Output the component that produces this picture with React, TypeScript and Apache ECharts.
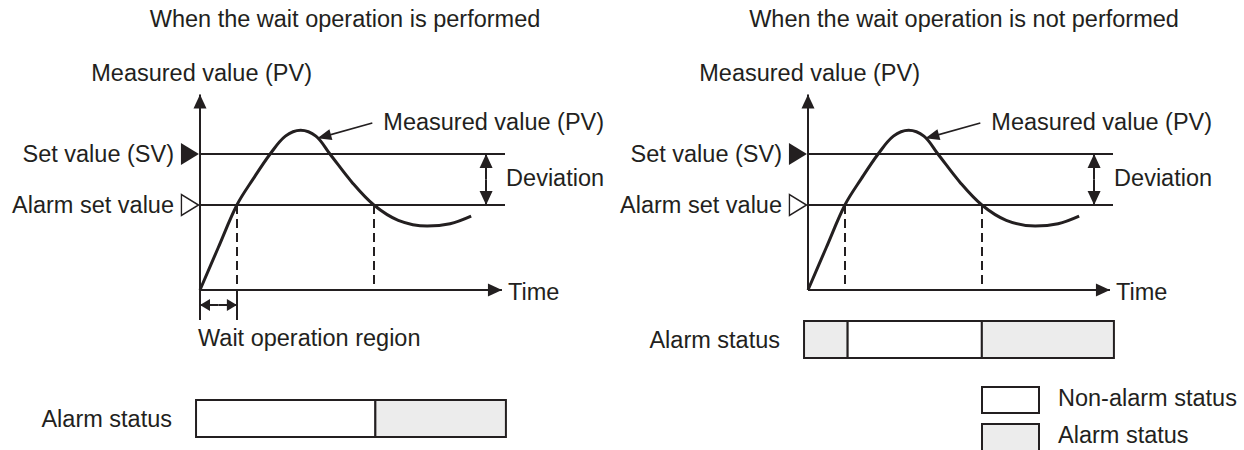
import React, { useEffect, useRef } from "react";
import * as echarts from "echarts";

// ---------- data ----------
const titles = ["When the wait operation is performed", "When the wait operation is not performed"];

// time axis units (0 = origin, axis ends at TIME_AXIS_END), PV units (0 = time axis)
const SET_VALUE = 80;
const ALARM_SET_VALUE = 50;
const PV_AXIS_TOP = 115;
const TIME_AXIS_END = 99;
const REF_LINE_END = 100;

const pvTime = [0, 6, 12.1, 17.5, 23, 28, 33, 38, 42.6, 50, 57, 65, 74.5, 82, 88.9];
const pvValue = [0, 25, 50, 65.5, 80, 90.5, 94, 90.5, 80, 63, 50, 41, 37.6, 39, 43.5];

const alarmRiseTime = 12.1;
const alarmFallTime = 57;
const deviationTime = 93.8;
const pointerFrom = [56.5, 98.2];
const pointerTo = [38.5, 89.2];
const waitArrowPV = -8.8;
const waitTickBottom = -17.6;

const leftStatusEdges = [-1.3, 57.5, 100.3];
const leftStatusAlarm = [0, 1];
const rightStatusEdges = [-1.3, 13, 57, 100.3];
const rightStatusAlarm = [1, 0, 1];

const legendLabels = ["Non-alarm status", "Alarm status"];

// ---------- style / layout ----------
const INK = "#231f20";
const GREY = "#ececec";
const FONT = "'Liberation Sans', Arial, Helvetica, sans-serif";
const FS = 23.5;
const T_PX = 3.05;
const V_PX = 1.7;
const AXIS_Y = 290;
const AXIS_XS = [200, 808];
const TITLE_XS = [345, 964];
const STATUS_TOPS = [400, 321];
const STATUS_H = 37;

function arrowEnd(coord: number[], size: number[]) {
  return { coord, symbol: "triangle", symbolSize: size, symbolOffset: [0, size[1] / 2] };
}
function plainEnd(coord: number[]) {
  return { coord, symbol: "none" };
}

export default function App() {
  const ref = useRef<HTMLDivElement>(null);
  useEffect(() => {
    document.body.style.margin = "0";
    const chart = echarts.init(ref.current!, null, { renderer: "svg" });

    const grids: any[] = [];
    const xAxes: any[] = [];
    const yAxes: any[] = [];
    const series: any[] = [];

    AXIS_XS.forEach((ax, p) => {
      grids.push({ left: ax - 10 * T_PX, top: AXIS_Y - 120 * V_PX, width: 120 * T_PX, height: 140 * V_PX });
      xAxes.push({ type: "value", min: -10, max: 110, show: false, gridIndex: p });
      yAxes.push({ type: "value", min: -20, max: 120, show: false, gridIndex: p });
    });
    AXIS_XS.forEach((ax, p) => {
      grids.push({ left: ax - 10 * T_PX, top: STATUS_TOPS[p], width: 120 * T_PX, height: STATUS_H });
      xAxes.push({ type: "value", min: -10, max: 110, show: false, gridIndex: 2 + p });
      yAxes.push({ type: "value", min: 0, max: 1, show: false, gridIndex: 2 + p });
    });

    const axisStyle = { color: INK, width: 2, type: "solid" };
    const dashStyle = { color: INK, width: 2, type: [9, 5] };
    const AH = [13, 14];
    const SMALL_AH = [12, 10];

    [0, 1].forEach((p) => {
      const wait = p === 0;
      const midDev = (SET_VALUE + ALARM_SET_VALUE) / 2;
      const lines: any[] = [
        // PV axis
        [plainEnd([0, wait ? waitTickBottom : 0]), { ...arrowEnd([0, PV_AXIS_TOP], AH), lineStyle: axisStyle }],
        // time axis
        [plainEnd([0, 0]), { ...arrowEnd([TIME_AXIS_END, 0], AH), lineStyle: axisStyle }],
        // set value / alarm set value lines
        [plainEnd([0, SET_VALUE]), { ...plainEnd([REF_LINE_END, SET_VALUE]), lineStyle: axisStyle }],
        [plainEnd([0, ALARM_SET_VALUE]), { ...plainEnd([REF_LINE_END, ALARM_SET_VALUE]), lineStyle: axisStyle }],
        // dashed drop lines
        [plainEnd([alarmRiseTime, ALARM_SET_VALUE]), { ...plainEnd([alarmRiseTime, 0]), lineStyle: dashStyle }],
        [plainEnd([alarmFallTime, ALARM_SET_VALUE]), { ...plainEnd([alarmFallTime, 0]), lineStyle: dashStyle }],
        // deviation double arrow
        [plainEnd([deviationTime, midDev]), { ...arrowEnd([deviationTime, SET_VALUE], AH), lineStyle: axisStyle }],
        [plainEnd([deviationTime, midDev]), { ...arrowEnd([deviationTime, ALARM_SET_VALUE], AH), lineStyle: axisStyle }],
        // pointer to curve
        [plainEnd(pointerFrom), { ...arrowEnd(pointerTo, [11, 14]), lineStyle: { color: INK, width: 1.6, type: "solid" } }],
      ];
      if (wait) {
        lines.push([plainEnd([alarmRiseTime, 0]), { ...plainEnd([alarmRiseTime, waitTickBottom]), lineStyle: axisStyle }]);
        lines.push([plainEnd([alarmRiseTime / 2, waitArrowPV]), { ...arrowEnd([0, waitArrowPV], SMALL_AH), lineStyle: axisStyle }]);
        lines.push([plainEnd([alarmRiseTime / 2, waitArrowPV]), { ...arrowEnd([alarmRiseTime, waitArrowPV], SMALL_AH), lineStyle: axisStyle }]);
      }
      series.push({
        type: "line",
        name: "Measured value (PV)",
        xAxisIndex: p,
        yAxisIndex: p,
        data: pvTime.map((t, i) => [t, pvValue[i]]),
        smooth: 0.35,
        symbol: "none",
        clip: false,
        color: INK,
        lineStyle: { color: INK, width: 3 },
        silent: true,
        z: 3,
      });
      series.push({
        type: "line",
        name: "annot" + p,
        xAxisIndex: p,
        yAxisIndex: p,
        data: [],
        color: INK,
        silent: true,
        markLine: {
          silent: true,
          animation: false,
          label: { show: false },
          emphasis: { disabled: true },
          lineStyle: axisStyle,
          data: lines,
        },
        markPoint: {
          silent: true,
          animation: false,
          label: { show: false },
          data: [
            { coord: [-3.3, SET_VALUE], symbol: "triangle", symbolRotate: -90, symbolSize: [22, 18], itemStyle: { color: INK } },
            { coord: [-3.3, ALARM_SET_VALUE], symbol: "triangle", symbolRotate: -90, symbolSize: [21, 17], itemStyle: { color: "#fff", borderColor: INK, borderWidth: 1.5 } },
          ],
        },
      });
    });

    const statusSeries = (g: number, edges: number[], states: number[]) => ({
      type: "custom",
      name: "Alarm status bar " + g,
      xAxisIndex: g,
      yAxisIndex: g,
      clip: false,
      silent: true,
      data: states.map((s, i) => [edges[i], edges[i + 1], s]),
      renderItem: (params: any, api: any) => {
        const a = api.coord([api.value(0), 1]);
        const b = api.coord([api.value(1), 0]);
        return {
          type: "rect",
          shape: { x: a[0], y: a[1], width: b[0] - a[0], height: b[1] - a[1] },
          style: { fill: api.value(2) === 1 ? GREY : "#fff", stroke: INK, lineWidth: 2 },
        };
      },
    });
    series.push(statusSeries(2, leftStatusEdges, leftStatusAlarm));
    series.push(statusSeries(3, rightStatusEdges, rightStatusAlarm));

    chart.setOption({
      animation: false,
      backgroundColor: "#fff",
      grid: grids,
      xAxis: xAxes,
      yAxis: yAxes,
      series,
    });

    const px = (g: number, t: number, v: number) => chart.convertToPixel({ gridIndex: g }, [t, v]) as number[];
    const txt = (text: string, x: number, y: number, align = "left") => ({
      type: "text",
      x,
      y,
      silent: true,
      style: { text, fill: INK, fontSize: FS, fontFamily: FONT, align, verticalAlign: "middle" },
    });

    const graphic: any[] = [];
    [0, 1].forEach((p) => {
      const o = px(p, 0, 0);
      graphic.push(txt(titles[p], TITLE_XS[p], 19, "center"));
      graphic.push(txt("Measured value (PV)", o[0] + 112, 73, "right"));
      const sv = px(p, 0, SET_VALUE);
      graphic.push(txt("Set value (SV)", sv[0] - 26, sv[1], "right"));
      const av = px(p, 0, ALARM_SET_VALUE);
      graphic.push(txt("Alarm set value", av[0] - 26, av[1], "right"));
      const dv = px(p, deviationTime, (SET_VALUE + ALARM_SET_VALUE) / 2);
      graphic.push(txt("Deviation", dv[0] + 20, dv[1] - 2, "left"));
      const te = px(p, TIME_AXIS_END, 0);
      graphic.push(txt("Time", te[0] + 6, te[1] + 2, "left"));
      const pf = px(p, pointerFrom[0], pointerFrom[1]);
      graphic.push(txt("Measured value (PV)", pf[0] + 11, pf[1] - 1, "left"));
      const sb = px(2 + p, p === 0 ? leftStatusEdges[0] : rightStatusEdges[0], 0.5);
      graphic.push(txt("Alarm status", sb[0] - 24, sb[1], "right"));
    });
    const wr = px(0, 0, waitArrowPV);
    graphic.push(txt("Wait operation region", wr[0] - 2, 338, "left"));

    // legend
    const LX = 982;
    const LY = [387, 424];
    [0, 1].forEach((i) => {
      graphic.push({
        type: "rect",
        silent: true,
        shape: { x: LX, y: LY[i], width: 57, height: i === 0 ? 26 : 30 },
        style: { fill: i === 0 ? "#fff" : GREY, stroke: INK, lineWidth: 2 },
      });
      graphic.push(txt(legendLabels[i], 1058, LY[i] + 11, "left"));
    });

    chart.setOption({ graphic });

    return () => chart.dispose();
  }, []);
  return (
    <div
      ref={ref}
      style={{ width: 1244, height: 450, position: "fixed", left: 0, top: 0, background: "#fff" }}
    />
  );
}
